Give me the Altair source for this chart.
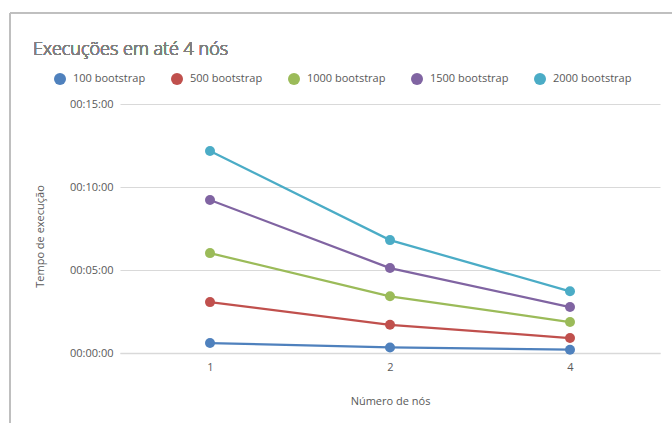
import altair as alt
import pandas as pd

nodes = ["1", "2", "4"]
series = ["100 bootstrap", "500 bootstrap", "1000 bootstrap", "1500 bootstrap", "2000 bootstrap"]
# execution time in seconds, per series, for 1, 2, 4 nodes
t100 = [36, 20, 12]
t500 = [184, 102, 54]
t1000 = [361, 205, 112]
t1500 = [553, 307, 166]
t2000 = [730, 408, 223]
colors = ["#4F81BD", "#C0504D", "#9BBB59", "#8064A2", "#4BACC6"]
y_ticks = [0, 300, 600, 900]
title_text = "Execuções em até 4 nós"

rows = []
for name, vals in zip(series, [t100, t500, t1000, t1500, t2000]):
    for n, v in zip(nodes, vals):
        rows.append({"nodes": n, "series": name, "secs": v})
df = pd.DataFrame(rows)

FONT = "Open Sans"
GRAY = "#595959"

x = alt.X("nodes:N", sort=nodes,
          scale=alt.Scale(type="point", padding=0.5),
          axis=alt.Axis(title="Número de nós", labelAngle=0, ticks=False,
                        domainColor="#d9d9d9", domainWidth=1.5,
                        labelPadding=8, titleY=48, titleBaseline="middle"))
y = alt.Y("secs:Q", scale=alt.Scale(domain=[0, 900]),
          axis=alt.Axis(title="Tempo de execução", values=y_ticks,
                        labelExpr="utcFormat(datum.value*1000, '%H:%M:%S')",
                        domain=False, ticks=False, gridColor="#d9d9d9",
                        labelPadding=7, titleX=-80, titleY=132,
                        titleBaseline="middle"))
color_scale = alt.Scale(domain=series, range=colors)
legend = alt.Legend(title=None, orient="none", direction="horizontal",
                    legendX=-66, legendY=-31,
                    symbolType="circle", symbolSize=144,
                    symbolStrokeWidth=0, symbolOpacity=1, labelFontSize=11,
                    labelColor=GRAY, labelFont=FONT,
                    labelOffset=7, columnPadding=25)
color = alt.Color("series:N", scale=color_scale, sort=series, legend=legend)

lines = alt.Chart(df).mark_line(strokeWidth=2.25).encode(
    x=x, y=y, color=color,
)
points = alt.Chart(df).mark_point(filled=True, size=100, opacity=1).encode(
    x=x, y=y, color=color,
)

frame_left = alt.Chart(df).mark_rule(color="#bfbfbf", strokeWidth=1.5).encode(
    x=alt.value(-110), y=alt.value(-91), y2=alt.value(330))
frame_top = alt.Chart(df).mark_rule(color="#bfbfbf", strokeWidth=1).encode(
    x=alt.value(-110), x2=alt.value(560), y=alt.value(-91))
title = alt.Chart(df).mark_text(
    text=title_text, align="left", baseline="alphabetic", font=FONT,
    fontSize=18, fontWeight=300, color="#7f7f7f",
).encode(x=alt.value(-87), y=alt.value(-49))

chart = alt.layer(frame_left, frame_top, title, lines, points).properties(
    width=540, height=249,
    autosize=alt.AutoSizeParams(type="none"),
    padding={"left": 120, "top": 104, "right": 12, "bottom": 70},
    background="white",
).configure_view(stroke=None).configure_axis(
    labelFont=FONT, titleFont=FONT, labelFontSize=11, titleFontSize=11,
    labelColor=GRAY, titleColor=GRAY, titleFontWeight="normal",
)

chart.save("out.html", embed_options={"renderer": "svg", "actions": False})
